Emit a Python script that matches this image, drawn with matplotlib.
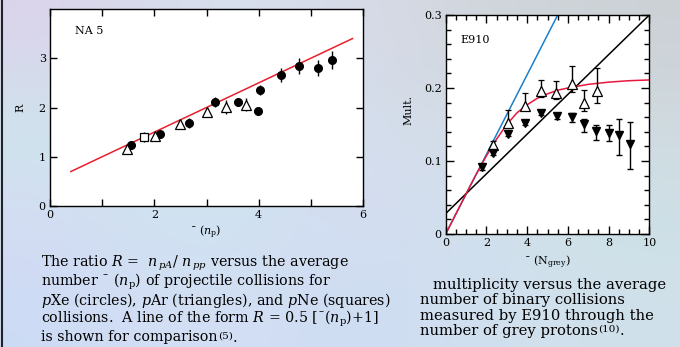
import matplotlib
matplotlib.use('Agg')
import matplotlib.pyplot as plt
import numpy as np
from matplotlib.ticker import MultipleLocator
from matplotlib.lines import Line2D

plt.rcParams['font.family'] = ['DejaVu Serif']
plt.rcParams['mathtext.fontset'] = 'dejavuserif'

# ---------------- Left panel (NA 5) data ----------------
xe_np = [1.55, 2.11, 2.66, 3.16, 3.61, 3.98, 4.03, 4.42, 4.77, 5.14, 5.41]
xe_R = [1.23, 1.47, 1.68, 2.11, 2.12, 1.93, 2.35, 2.66, 2.85, 2.80, 2.97]
xe_err = [0.05, 0.05, 0.10, 0.10, 0.08, 0.03, 0.10, 0.14, 0.16, 0.16, 0.18]
ar_np = [1.47, 2.01, 2.50, 3.01, 3.38, 3.75]
ar_R = [1.15, 1.42, 1.66, 1.90, 2.01, 2.06]
ar_err = [0.05, 0.05, 0.05, 0.10, 0.15, 0.14]
ne_np = [1.80]
ne_R = [1.40]
ne_err = [0.10]
ref_np = [0.4, 5.8]
ref_R = [0.7, 3.4]

# ---------------- Right panel (E910) data ----------------
up_x = [2.31, 3.06, 3.89, 4.69, 5.43, 6.18, 6.79, 7.41]
up_y = [0.122, 0.152, 0.175, 0.196, 0.193, 0.205, 0.180, 0.196]
up_hi = [0.128, 0.170, 0.193, 0.211, 0.209, 0.230, 0.197, 0.227]
up_lo = [0.116, 0.145, 0.170, 0.188, 0.185, 0.194, 0.169, 0.179]
dn_x = [1.77, 2.31, 3.06, 3.89, 4.69, 5.45, 6.18, 6.80, 7.39, 8.00, 8.52, 9.05]
dn_y = [0.092, 0.111, 0.137, 0.152, 0.166, 0.161, 0.160, 0.151, 0.1415, 0.138, 0.1355, 0.123]
dn_hi = [0.096, 0.114, 0.140, 0.155, 0.169, 0.164, 0.166, 0.158, 0.150, 0.150, 0.158, 0.154]
dn_lo = [0.088, 0.108, 0.134, 0.149, 0.163, 0.158, 0.154, 0.140, 0.129, 0.128, 0.108, 0.089]
red_x = [0, 1, 1.5, 2, 2.5, 3, 3.5, 4, 4.5, 5, 5.5, 6, 7, 8, 9, 10]
red_y = [0, 0.055, 0.082, 0.107, 0.130, 0.150, 0.166, 0.177, 0.186, 0.192, 0.197, 0.200, 0.205, 0.208, 0.210, 0.211]
blue_x = [0, 5.5]
blue_y = [0, 0.3]
black_x = [0, 10]
black_y = [0.028, 0.3]

W, H = 680, 347
fig = plt.figure(figsize=(W / 100, H / 100), dpi=100)
renderer = fig.canvas.get_renderer()

def fx(px):
    return px / W

def fy(py):
    return 1 - py / H

# background
bg = fig.add_axes([0, 0, 1, 1], zorder=-10)
cols = np.array([
    [[0.86, 0.83, 0.92], [0.84, 0.88, 0.93], [0.85, 0.86, 0.92], [0.82, 0.84, 0.86], [0.80, 0.82, 0.84]],
    [[0.80, 0.90, 0.93], [0.82, 0.91, 0.94], [0.83, 0.87, 0.94], [0.83, 0.87, 0.90], [0.82, 0.86, 0.88]],
    [[0.84, 0.86, 0.95], [0.80, 0.90, 0.94], [0.84, 0.86, 0.95], [0.82, 0.88, 0.93], [0.80, 0.88, 0.90]],
    [[0.80, 0.86, 0.96], [0.84, 0.88, 0.96], [0.80, 0.86, 0.95], [0.82, 0.88, 0.94], [0.82, 0.88, 0.92]],
])
bg.imshow(cols, aspect='auto', interpolation='bicubic', extent=[0, 1, 0, 1])
bg.set_axis_off()
fig.add_artist(Line2D([fx(1.5), fx(1.5)], [0, 1], color='#222222', lw=1.5,
                      transform=fig.transFigure))

# ---------- left axes ----------
ax1 = fig.add_axes([fx(50), fy(206), fx(363) - fx(50), fy(9) - fy(206)])
ax1.set_facecolor('white')
ax1.plot(ref_np, ref_R, color='#e8202c', lw=1.1, zorder=2)
ax1.errorbar(xe_np, xe_R, yerr=xe_err, fmt='o', color='black', ms=5.5, elinewidth=1, capsize=0, zorder=3)
ax1.errorbar(ar_np, ar_R, yerr=ar_err, fmt='^', color='black', mfc='white', mec='black', ms=6.5, mew=0.9,
             elinewidth=1, capsize=0, zorder=3)
ax1.errorbar(ne_np, ne_R, yerr=ne_err, fmt='s', color='black', mfc='white', mec='black', ms=5.5, mew=0.9,
             elinewidth=1, capsize=0, zorder=3)
ax1.set_xlim(0, 6)
ax1.set_ylim(0, 4)
ax1.xaxis.set_major_locator(MultipleLocator(2))
ax1.xaxis.set_minor_locator(MultipleLocator(1))
ax1.set_yticks([0, 1, 2, 3])
ax1.tick_params(which='both', direction='in', top=True, right=True, length=5, width=1, labelsize=8, pad=3)
for s in ax1.spines.values():
    s.set_linewidth(1)
ax1.text(0.08, 0.89, 'NA 5', transform=ax1.transAxes, fontsize=8, va='center', ha='left')
fig.text(fx(20), fy(108), 'R', rotation=90, fontsize=8, ha='center', va='center')
fig.text(fx(206), fy(232), '¯ ($n_{\\rm p}$)', fontsize=8, ha='center', va='center')

# ---------- right axes ----------
ax2 = fig.add_axes([fx(445.7), fy(234), fx(649.3) - fx(445.7), fy(15) - fy(234)])
ax2.set_facecolor('white')
ax2.plot(blue_x, blue_y, color='#1a80cc', lw=1.1, zorder=2)
ax2.plot(black_x, black_y, color='black', lw=1.1, zorder=2)
ax2.plot(red_x, red_y, color='#e8183c', lw=1.1, zorder=2)
up_err = [np.subtract(up_y, up_lo), np.subtract(up_hi, up_y)]
dn_err = [np.subtract(dn_y, dn_lo), np.subtract(dn_hi, dn_y)]
ax2.errorbar(up_x, up_y, yerr=up_err, fmt='^', color='black', mfc='white', mec='black', ms=7, mew=0.9,
             elinewidth=1, capsize=2.5, capthick=1, zorder=3)
ax2.errorbar(dn_x, dn_y, yerr=dn_err, fmt='v', color='black', ms=5.5, elinewidth=1, capsize=2.5,
             capthick=1, zorder=3)
ax2.set_xlim(0, 10)
ax2.set_ylim(0, 0.3)
ax2.xaxis.set_major_locator(MultipleLocator(2))
ax2.xaxis.set_minor_locator(MultipleLocator(0.5))
ax2.yaxis.set_minor_locator(MultipleLocator(0.02))
ax2.set_yticks([0, 0.1, 0.2, 0.3])
ax2.set_yticklabels(['0', '0.1', '0.2', '0.3'])
ax2.tick_params(which='major', direction='in', top=True, right=True, length=6, width=1, labelsize=8, pad=3)
ax2.tick_params(which='minor', direction='in', top=True, right=True, length=3.5, width=1)
for s in ax2.spines.values():
    s.set_linewidth(1)
ax2.text(0.07, 0.885, 'E910', transform=ax2.transAxes, fontsize=8, va='center', ha='left')
fig.text(fx(408), fy(110), 'Mult.', rotation=90, fontsize=8, ha='center', va='center')
fig.text(fx(547), fy(262), '¯ (N$_{\\rm grey}$)', fontsize=8, ha='center', va='center')

# ---------- captions ----------
def line_with_sup(x, base, main, sup, tail, fs, sfs, raise_px):
    t = fig.text(fx(x), fy(base), main, fontsize=fs, ha='left', va='baseline')
    bb = t.get_window_extent(renderer)
    t2 = fig.text(bb.x1 / W + 0.5 / W, fy(base - raise_px), sup, fontsize=sfs, ha='left', va='baseline')
    bb2 = t2.get_window_extent(renderer)
    fig.text(bb2.x1 / W, fy(base), tail, fontsize=fs, ha='left', va='baseline')

left_lines = [
    'The ratio $R$ =  $n_{\\,pA}$/ $n_{\\,pp}$ versus the average',
    'number ¯ ($n_{\\rm p}$) of projectile collisions for',
    '$p$Xe (circles), $p$Ar (triangles), and $p$Ne (squares)',
    'collisions.  A line of the form $R$ = 0.5 [¯($n_{\\rm p}$)+1]',
]
left_base = [267, 286, 304.5, 323]
for t, b in zip(left_lines, left_base):
    fig.text(fx(40.7), fy(b), t, fontsize=10.3, ha='left', va='baseline')
line_with_sup(40.7, 341.5, 'is shown for comparison', '(5)', '.', 10.3, 7.5, 3)

right_lines = [
    'multiplicity versus the average',
    'number of binary collisions',
    'measured by E910 through the',
]
right_x = [433, 420, 420]
right_base = [289, 304.3, 319.6]
for t, xx, b in zip(right_lines, right_x, right_base):
    fig.text(fx(xx), fy(b), t, fontsize=10.6, ha='left', va='baseline')
line_with_sup(420, 335, 'number of grey protons', '(10)', '.', 10.6, 7.5, 3.5)

fig.savefig('out.png', dpi=100)
